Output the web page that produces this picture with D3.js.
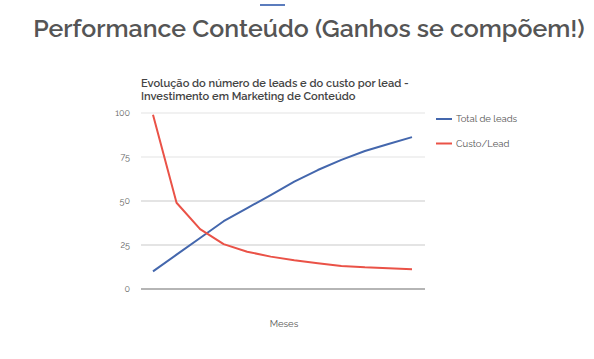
<!DOCTYPE html>
<html><head><meta charset="utf-8">
<script src="https://cdn.jsdelivr.net/npm/d3@7"></script>
<style>body{margin:0;background:#fff}svg{display:block}</style>
</head><body>
<script>
const months = ["1","2","3","4","5","6","7","8","9","10","11","12"];
const totalLeads = [10, 19.5, 29, 38.5, 46, 53.4, 61, 67.6, 73.4, 78.4, 82.4, 86.3];
const custoLead = [99, 49, 34, 25.5, 21.2, 18.4, 16.3, 14.6, 13.1, 12.3, 11.8, 11.2];
const yTicks = [0, 25, 50, 75, 100];
const seriesNames = ["Total de leads", "Custo/Lead"];
const colors = ["#4467ad", "#ea5247"];

const W = 594, H = 359;
const svg = d3.select("body").append("svg").attr("width", W).attr("height", H);
const font = "Raleway, 'Open Sans', Lato, sans-serif";

svg.append("rect").attr("x", 260).attr("y", 4).attr("width", 25).attr("height", 2).attr("fill", "#5b7cbd");
svg.append("text").attr("x", 309).attr("y", 37).attr("text-anchor", "middle")
  .attr("font-family", font).attr("font-size", 24.9).attr("font-weight", 600).attr("fill", "#555")
  .text("Performance Conteúdo (Ganhos se compõem!)");

const title = svg.append("text").attr("font-family", font).attr("font-size", 11.1).attr("font-weight", 600).attr("fill", "#444");
title.append("tspan").attr("x", 141).attr("y", 87).text("Evolução do número de leads e do custo por lead -");
title.append("tspan").attr("x", 141).attr("y", 99.5).text("Investimento em Marketing de Conteúdo");

const x = d3.scalePoint().domain(months).range([153, 412]);
const y = d3.scaleLinear().domain([0, 100]).range([289, 113]);

const g = svg.append("g");
yTicks.forEach(t => {
  g.append("line").attr("x1", 141).attr("x2", 425).attr("y1", y(t)).attr("y2", y(t))
    .attr("stroke", t === 0 ? "#b5b5b5" : (t >= 75 ? "#e3e3e3" : "#c9c9c9"))
    .attr("stroke-width", t === 0 ? 2 : 1);
  g.append("text").attr("x", 130).attr("y", y(t) + 3).attr("text-anchor", "end")
    .attr("font-family", font).attr("font-size", 9).attr("fill", "#666").text(t);
});

const line = d3.line().x((d, i) => x(months[i])).y(d => y(d));
[totalLeads, custoLead].forEach((s, k) => {
  g.append("path").datum(s).attr("d", line).attr("fill", "none")
    .attr("stroke", colors[k]).attr("stroke-width", 2).attr("stroke-linejoin", "round");
});

seriesNames.forEach((n, k) => {
  const ly = 119 + k * 24.5;
  svg.append("line").attr("x1", 436).attr("x2", 452).attr("y1", ly).attr("y2", ly)
    .attr("stroke", colors[k]).attr("stroke-width", 2);
  svg.append("text").attr("x", 456).attr("y", ly + 3).attr("font-family", font)
    .attr("font-size", 9.5).attr("fill", "#555").text(n);
});

svg.append("text").attr("x", 284).attr("y", 327).attr("text-anchor", "middle")
  .attr("font-family", font).attr("font-size", 9.5).attr("fill", "#555").text("Meses");
</script>
</body></html>
